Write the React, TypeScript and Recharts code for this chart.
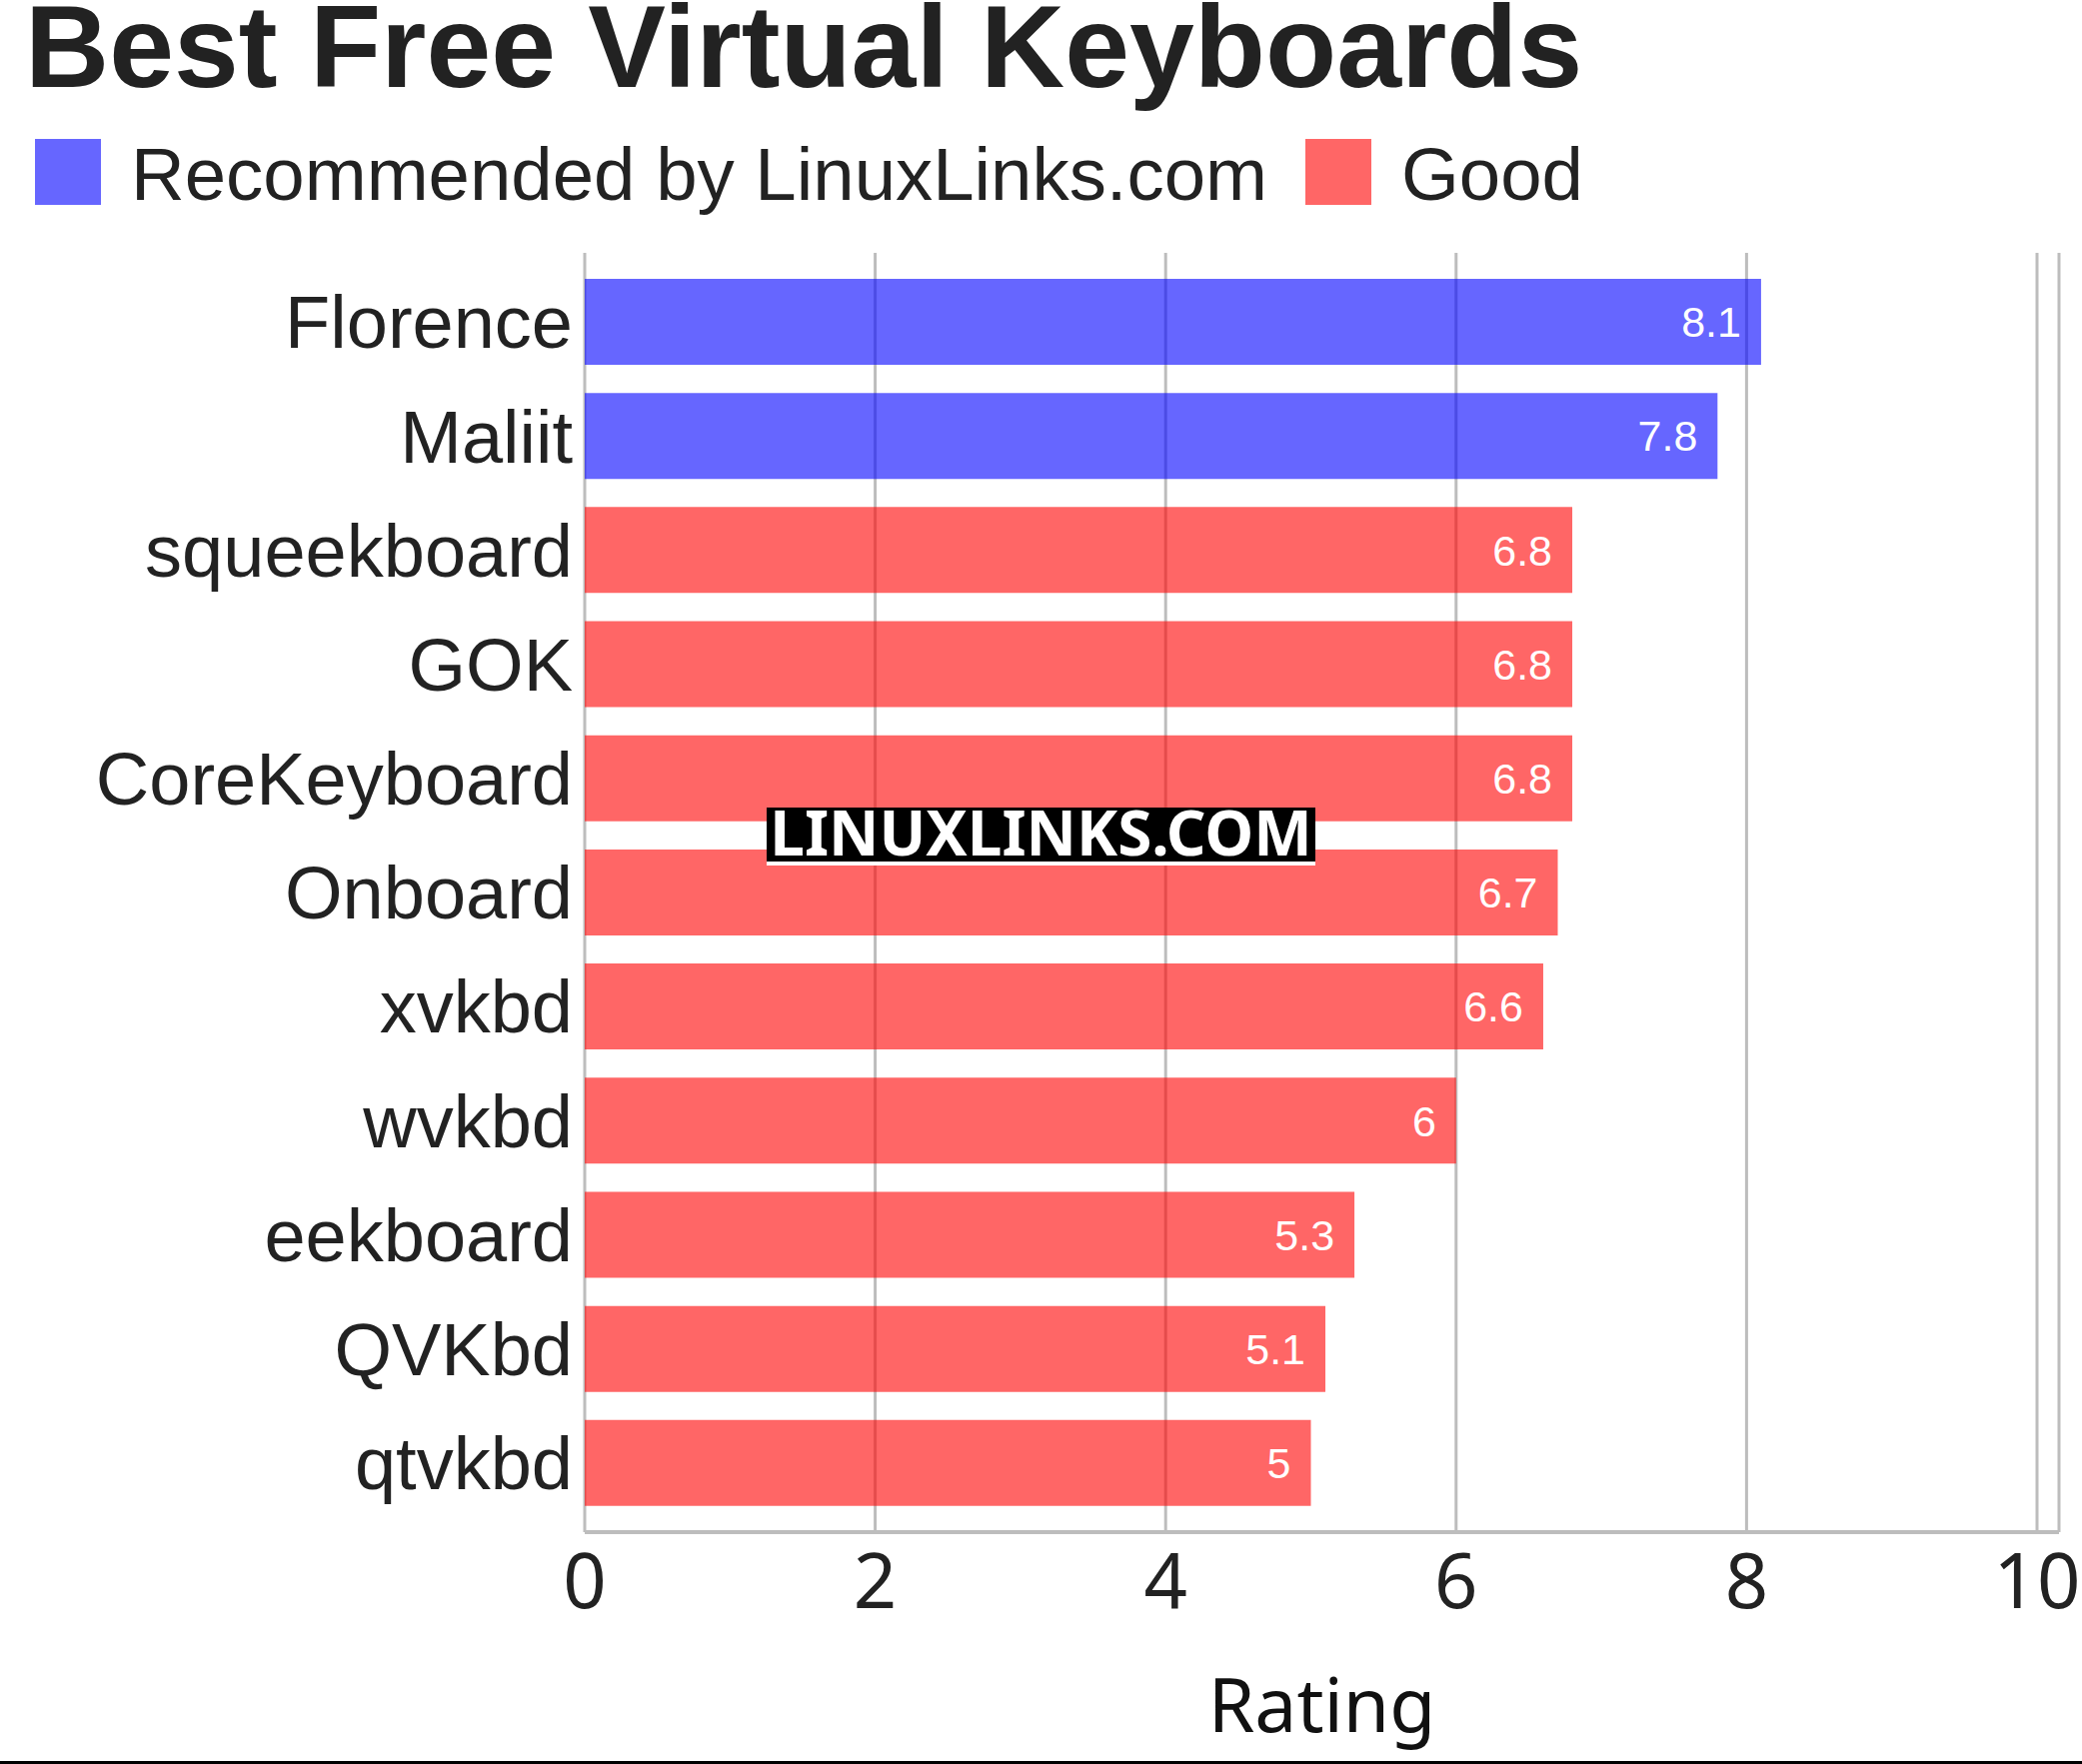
import { BarChart, Bar, XAxis, YAxis, CartesianGrid, LabelList, Legend } from 'recharts'

const keyboards = [
  'Florence',
  'Maliit',
  'squeekboard',
  'GOK',
  'CoreKeyboard',
  'Onboard',
  'xvkbd',
  'wvkbd',
  'eekboard',
  'QVKbd',
  'qtvkbd',
]
const ratings = [8.1, 7.8, 6.8, 6.8, 6.8, 6.7, 6.6, 6, 5.3, 5.1, 5]
const recommendedCount = 2
const xTicks = [0, 2, 4, 6, 8, 10]
const seriesNames = ['Recommended by LinuxLinks.com', 'Good']

const data = keyboards.map((name, i) => ({
  name,
  recommended: i < recommendedCount ? ratings[i] : null,
  good: i >= recommendedCount ? ratings[i] : null,
}))

const sans = '"Liberation Sans", Arial, sans-serif'
const noto = '"Noto Sans", "Open Sans", sans-serif'

// legend item x offsets (rect start)
const legendX = [35, 1306]

function renderLegend(props: any) {
  const items = [...(props.payload || [])].sort(
    (a: any, b: any) => seriesNames.indexOf(a.value) - seriesNames.indexOf(b.value)
  )
  return (
    <svg width={1800} height={110}>
      {items.map((it: any, i: number) => (
        <g key={it.value}>
          <rect x={legendX[i]} y={19} width={66} height={66} fill={it.color} fillOpacity={0.6} />
          <text x={legendX[i] + 96} y={80} fontSize={74.4} fontFamily={sans} fill="#222">
            {it.value}
          </text>
        </g>
      ))}
    </svg>
  )
}

export default function App() {
  return (
    <div style={{ position: 'absolute', left: 0, top: 0, width: 2083, height: 1765, background: '#fff' }}>
      <svg width={2083} height={135} style={{ position: 'absolute', left: 0, top: 0 }}>
        <text x={25} y={87} fontSize={116.5} fontWeight="bold" fontFamily={sans} fill="#222">
          Best Free Virtual Keyboards
        </text>
      </svg>
      <BarChart
        width={2083}
        height={1765}
        data={data}
        layout="vertical"
        margin={{ top: 253, right: 23, bottom: 0, left: 0 }}
      >
        <CartesianGrid horizontal={false} stroke="#bdbdbd" strokeWidth={3} />
        <XAxis
          type="number"
          domain={[0, 10]}
          ticks={xTicks}
          padding={{ left: 0, right: 22 }}
          height={232}
          axisLine={{ stroke: '#bdbdbd', strokeWidth: 4 }}
          tickLine={false}
          tickSize={0}
          tickMargin={22}
          tick={{ fontSize: 76, fontFamily: noto, fill: '#222' }}
          label={{ value: 'Rating', position: 'insideBottom', offset: 32, fontSize: 75, fontFamily: noto, fill: '#111' }}
        />
        <YAxis
          type="category"
          dataKey="name"
          width={585}
          interval={0}
          axisLine={false}
          tickLine={false}
          tickSize={0}
          tickMargin={12}
          padding={{ top: 12, bottom: 12 }}
          tick={{ fontSize: 74, fontFamily: sans, fill: '#222' }}
        />
        <Legend
          layout="horizontal"
          verticalAlign="middle"
          align="center"
          content={renderLegend}
          wrapperStyle={{ top: 120, left: 0, width: 1800, height: 110 }}
        />
        <Bar
          dataKey="recommended"
          name={seriesNames[0]}
          stackId="a"
          fill="#0000ff"
          fillOpacity={0.6}
          barSize={86}
          isAnimationActive={false}
        >
          <LabelList dataKey="recommended" position="insideRight" offset={20} fill="#fff" fontSize={43} fontFamily={sans} />
        </Bar>
        <Bar
          dataKey="good"
          name={seriesNames[1]}
          stackId="a"
          fill="#ff0000"
          fillOpacity={0.6}
          barSize={86}
          isAnimationActive={false}
        >
          <LabelList dataKey="good" position="insideRight" offset={20} fill="#fff" fontSize={43} fontFamily={sans} />
        </Bar>
      </BarChart>
      <div
        style={{
          position: 'absolute',
          left: 767,
          top: 808,
          width: 549,
          height: 54,
          lineHeight: '48px',
          background: '#000',
          borderBottom: '4px solid #fff',
          color: '#fff',
          fontFamily: noto,
          fontWeight: 'bold',
          fontSize: 62,
          textAlign: 'center',
          whiteSpace: 'nowrap',
        }}
      >
        LINUXLINKS.COM
      </div>
      <div style={{ position: 'absolute', left: 0, top: 1762, width: 2083, height: 3, background: '#000' }} />
    </div>
  )
}
